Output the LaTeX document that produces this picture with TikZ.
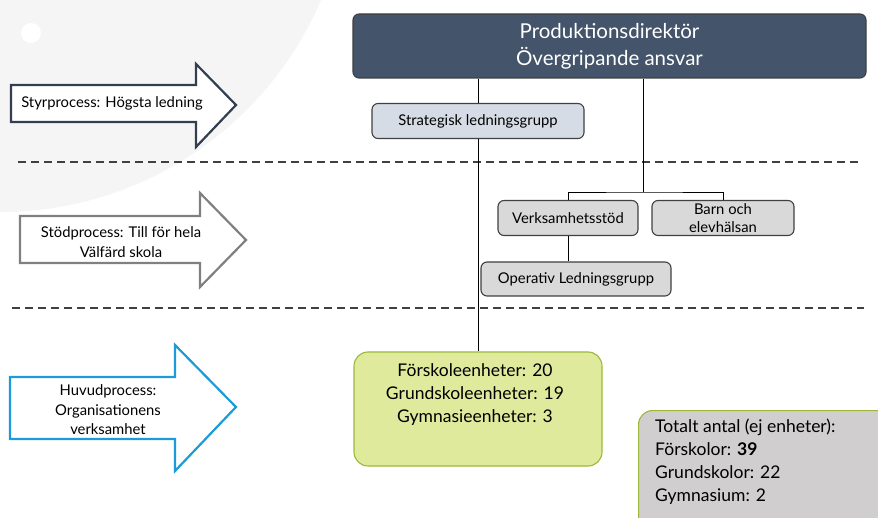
\documentclass[tikz,border=0pt]{standalone}
\usepackage{fontspec}
\setmainfont{Lato}
\definecolor{topfill}{HTML}{44546A}
\definecolor{stratfill}{HTML}{D6DCE5}
\definecolor{grayfill}{HTML}{D9D9D9}
\definecolor{greenfill}{HTML}{DFEA9C}
\definecolor{greenline}{HTML}{9BB83A}
\definecolor{totfill}{HTML}{D0CECE}
\definecolor{darkline}{HTML}{404040}
\definecolor{arrowdark}{HTML}{333F50}
\definecolor{arrowgray}{HTML}{808080}
\definecolor{arrowblue}{HTML}{1C9BD8}
\definecolor{wmgray}{HTML}{F5F5F5}
\tikzset{
  orgbox/.style={draw=darkline, line width=1.1pt, rounded corners=6pt, align=center, inner sep=2pt},
  conn/.style={draw=black, line width=0.9pt},
  sepline/.style={draw=darkline, line width=1.3pt, dash pattern=on 8pt off 5pt},
  procarrow/.style={fill=white, line width=2.2pt, line join=miter},
  arrowtext/.style={align=center, font=\fontsize{14.8}{19.5}\selectfont, inner sep=0pt},
  smalltext/.style={font=\fontsize{14.8}{18}\selectfont}
}
\begin{document}
\begin{tikzpicture}[x=1pt,y=-1pt]
\useasboundingbox (0,0) rectangle (878,518);
\clip (0,0) rectangle (878,518);
% faint watermark
\fill[wmgray] (0,-137) circle (349);
\fill[white] (31,33) circle (10);

% process arrows
\draw[procarrow, draw=arrowdark] (11,85) -- (196,85) -- (196,64) -- (236,105) -- (196,147) -- (196,122) -- (11,122) -- cycle;
\node[arrowtext] (t1) at (112,103) {Styrprocess: Högsta ledning};
\draw[procarrow, draw=arrowgray] (20,216) -- (200,216) -- (200,193) -- (246,240) -- (200,287) -- (200,263) -- (20,263) -- cycle;
\node[arrowtext] (t2) at (121,242) {Stödprocess: Till för hela\\Välfärd skola};
\draw[procarrow, draw=arrowblue] (10,377) -- (175,377) -- (175,345) -- (236,407) -- (175,471) -- (175,439) -- (10,439) -- cycle;
\node[arrowtext] (t3) at (108,410) {Huvudprocess:\\Organisationens\\verksamhet};

% dashed separators
\draw[sepline] (18,162) -- (862,162);
\draw[sepline] (12,308) -- (864,308);

% org nodes
\node[orgbox, fill=topfill, text=white, minimum width=513, minimum height=64,
      font=\fontsize{20.5}{27}\selectfont] (top) at (609.5,46) {Produktionsdirektör\\Övergripande ansvar};
\node[orgbox, fill=stratfill, minimum width=212, minimum height=35, smalltext] (strat) at (478,121) {Strategisk ledningsgrupp};
\node[orgbox, fill=grayfill, minimum width=140, minimum height=35, smalltext] (verks) at (568,218) {Verksamhetsstöd};
\node[orgbox, fill=grayfill, minimum width=142, minimum height=35, smalltext] (barn) at (723,218) {Barn och\\elevhälsan};
\node[orgbox, fill=grayfill, minimum width=190, minimum height=34, smalltext] (oper) at (576,279) {Operativ Ledningsgrupp};
\node[orgbox, draw=greenline, fill=greenfill, rounded corners=14pt, minimum width=248, minimum height=114] (green) at (478,409) {};
\node[align=center, font=\fontsize{17.5}{23}\selectfont, inner sep=0pt] (greentext) at (475,395)
  {Förskoleenheter: 20\\Grundskoleenheter: 19\\Gymnasieenheter: 3};
\node[orgbox, draw=greenline, fill=totfill, rounded corners=14pt, minimum width=270, minimum height=130, anchor=north west] (tot) at (638,410) {};
\node[align=left, anchor=north west, font=\fontsize{17.5}{23}\selectfont, inner sep=0pt] (tottext) at (655,419)
  {Totalt antal (ej enheter):\\Förskolor: \textbf{39}\\Grundskolor: 22\\Gymnasium: 2};

% connectors
\draw[conn] (strat.north |- top.south) -- (strat.north);
\draw[conn] (strat.south) -- (strat.south |- green.north);
\draw[conn] (643,0 |- top.south) -- (643,192) coordinate (branch);
\draw[conn] (verks.north) |- (branch) -| (barn.north);
\draw[conn] (verks.south) -- (verks.south |- oper.north);
\end{tikzpicture}
\end{document}
